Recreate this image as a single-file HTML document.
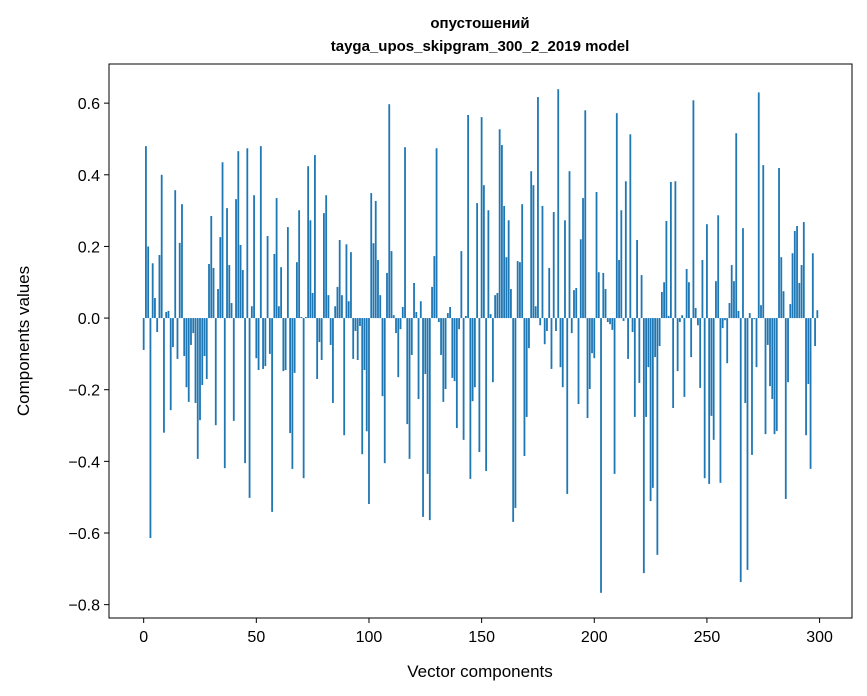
<!DOCTYPE html>
<html><head><meta charset="utf-8"><style>
body{margin:0;background:#fff;}
svg{display:block;font-family:"Liberation Sans","DejaVu Sans",sans-serif;}
</style></head><body>
<svg id="chart" width="867" height="696">
<rect width="867" height="696" fill="#fff"/>
<text x="480" y="28" text-anchor="middle" font-size="15" font-weight="bold" font-family="'Liberation Sans','DejaVu Sans',sans-serif">опустошений</text>
<text x="480" y="51" text-anchor="middle" font-size="15" font-weight="bold">tayga_upos_skipgram_300_2_2019 model</text>
<g id="bars"></g>
<g id="xticks"></g>
<g id="yticks"></g>
<rect x="109" y="64" width="743" height="554" fill="none" stroke="#000" stroke-width="1"/>
<text x="480" y="677" text-anchor="middle" font-size="17">Vector components</text>
<text x="0" y="0" transform="translate(29,341) rotate(-90)" text-anchor="middle" font-size="17">Components values</text>
</svg>
<script>
const values = [
-0.089,0.48,0.20,-0.614,0.153,0.056,-0.039,0.176,0.40,-0.32,
0.017,0.02,-0.257,-0.081,0.357,-0.114,0.21,0.318,-0.106,-0.193,
-0.234,-0.075,-0.042,-0.237,-0.393,-0.285,-0.187,-0.106,-0.17,0.151,
0.285,0.14,-0.299,0.081,0.226,0.435,-0.419,0.307,0.148,0.042,
-0.287,0.332,0.466,0.204,0.134,-0.405,0.474,-0.502,0.033,0.343,
-0.112,-0.145,0.48,-0.142,-0.134,0.229,-0.10,-0.541,0.179,0.335,
0.033,0.142,-0.148,-0.145,0.254,-0.321,-0.421,-0.153,0.156,0.301,
0.003,-0.447,0.003,0.424,0.273,0.07,0.455,-0.17,-0.067,-0.117,
0.293,0.343,0.064,-0.075,-0.237,0.033,0.087,0.218,0.064,-0.327,
0.206,0.047,0.184,-0.114,-0.036,-0.117,-0.022,-0.38,-0.145,-0.316,
-0.519,0.349,0.209,0.327,0.162,0.064,-0.218,-0.405,0.126,0.597,
0.187,0.008,-0.042,-0.165,-0.031,0.031,0.477,-0.296,-0.393,-0.103,
0.098,0.017,-0.226,0.047,-0.555,-0.156,-0.435,-0.564,0.087,0.173,
0.474,-0.011,-0.103,-0.234,-0.198,0.014,0.031,-0.167,-0.176,-0.307,
-0.031,0.187,-0.34,0.006,0.567,-0.449,-0.232,-0.193,0.321,-0.374,
0.561,0.371,-0.427,0.301,0.011,-0.179,0.064,0.07,0.527,0.483,
0.313,0.17,0.273,0.081,-0.569,-0.53,0.159,0.156,0.318,-0.385,
-0.276,-0.084,0.41,0.371,0.033,0.617,-0.02,0.313,-0.073,-0.036,
0.14,-0.142,0.296,-0.036,0.639,-0.137,-0.193,0.273,-0.491,0.41,
-0.042,0.078,0.084,-0.24,0.22,0.335,0.58,-0.279,-0.198,-0.098,
-0.112,0.352,0.128,-0.767,0.126,0.081,-0.011,-0.017,-0.033,-0.435,
0.572,0.162,0.301,-0.008,0.382,-0.114,0.513,-0.039,-0.276,0.218,
-0.181,0.12,-0.712,-0.276,-0.137,-0.511,-0.474,-0.109,-0.661,-0.078,
0.073,0.1,0.271,0.006,0.38,-0.251,0.382,-0.148,-0.011,0.008,
-0.22,0.137,0.1,-0.109,0.608,0.028,-0.02,-0.195,0.162,-0.447,
0.262,-0.463,-0.273,-0.34,0.103,0.287,-0.46,-0.028,-0.006,-0.126,
0.042,0.148,0.103,0.516,0.02,-0.737,0.251,-0.237,-0.703,0.014,
-0.382,-0.003,-0.137,0.63,0.036,0.427,-0.324,-0.075,-0.19,-0.226,
-0.324,-0.315,0.419,0.17,0.075,-0.505,-0.179,0.039,0.181,0.243,
0.257,0.098,0.148,0.268,-0.327,-0.184,-0.421,0.181,-0.078,0.022
];
const xTickValues = [0,50,100,150,200,250,300];
const yTickValues = [-0.8,-0.6,-0.4,-0.2,0.0,0.2,0.4,0.6];

const NS = "http://www.w3.org/2000/svg";
const L=109,R=852,T=64,B=618;
const n = values.length;
const xmin=-0.4-0.05*(n-0.2), xmax=n-1+0.4+0.05*(n-0.2);
const vmin=Math.min(0,...values), vmax=Math.max(0,...values);
const pad=(vmax-vmin)*0.05;
const ymin=vmin-pad, ymax=vmax+pad;
function xs(v){return L+(v-xmin)/(xmax-xmin)*(R-L);}
function ys(v){return B-(v-ymin)/(ymax-ymin)*(B-T);}

const bars=document.getElementById('bars');
values.forEach((v,i)=>{
  const r=document.createElementNS(NS,'rect');
  const x0=xs(i-0.4), x1=xs(i+0.4);
  const y0=ys(Math.max(v,0)), y1=ys(Math.min(v,0));
  r.setAttribute('x',x0);r.setAttribute('width',x1-x0);
  r.setAttribute('y',y0);r.setAttribute('height',Math.max(y1-y0,0.01));
  r.setAttribute('fill','#1f77b4');
  
  
  bars.appendChild(r);
});
const xt=document.getElementById('xticks');
xTickValues.forEach(v=>{
  const x=xs(v);
  const l=document.createElementNS(NS,'line');
  l.setAttribute('x1',x);l.setAttribute('x2',x);l.setAttribute('y1',B);l.setAttribute('y2',B+5);
  l.setAttribute('stroke','#000');
  
  
  xt.appendChild(l);
  const t=document.createElementNS(NS,'text');
  t.setAttribute('x',x);t.setAttribute('y',B+24);t.setAttribute('text-anchor','middle');t.setAttribute('font-size','16');
  t.textContent=String(v);
  
  
  xt.appendChild(t);
});
const yt=document.getElementById('yticks');
yTickValues.forEach(v=>{
  const y=ys(v);
  const l=document.createElementNS(NS,'line');
  l.setAttribute('x1',L-5);l.setAttribute('x2',L);l.setAttribute('y1',y);l.setAttribute('y2',y);
  l.setAttribute('stroke','#000');
  
  
  yt.appendChild(l);
  const t=document.createElementNS(NS,'text');
  t.setAttribute('x',L-9);t.setAttribute('y',y+6);t.setAttribute('text-anchor','end');t.setAttribute('font-size','16');
  t.textContent=(v<0?'\u2212':'')+Math.abs(v).toFixed(1);
  
  
  yt.appendChild(t);
});
</script>
</body></html>
